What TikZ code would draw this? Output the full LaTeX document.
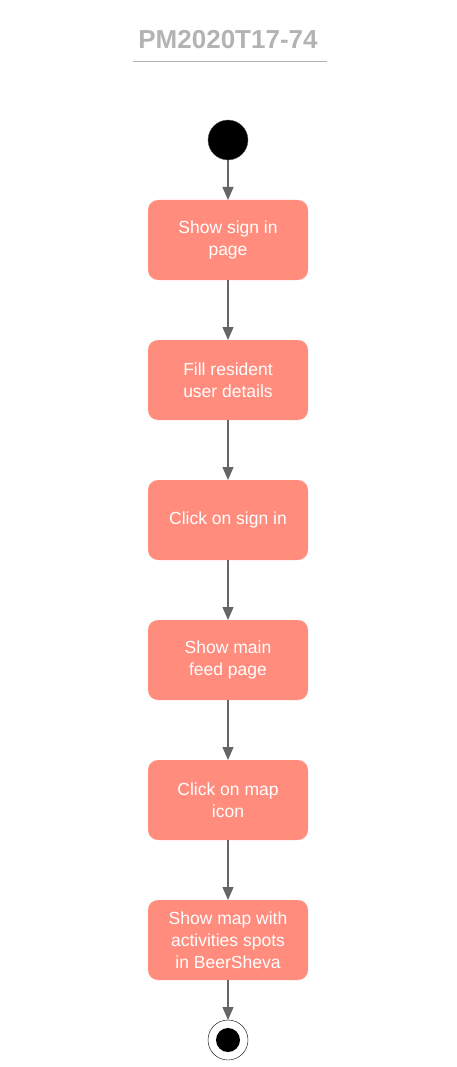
\documentclass[tikz,border=0pt]{standalone}
\usepackage{fontspec}
\setmainfont{Liberation Sans}
\usetikzlibrary{positioning,arrows.meta}
\definecolor{boxred}{HTML}{FF8C7D}
\definecolor{linegray}{HTML}{666666}
\definecolor{titlegray}{HTML}{B3B3B3}

\begin{document}
\begin{tikzpicture}
[
x=1pt, y=1pt,
node distance=60pt,
every node/.style={outer sep=0pt},
title/.style={text=titlegray, font=\fontsize{26}{30}\selectfont\bfseries},
start/.style={circle, fill=black, draw=linegray, thin, minimum size=40pt, inner sep=0},
action/.style={rectangle, rounded corners=10pt, fill=boxred, text=white, minimum width=160pt, minimum height=80pt, align=center, font=\fontsize{17.5}{22}\selectfont},
final/.style={circle, draw=black, fill=white, thin, minimum size=40pt, inner sep=0, path picture={\fill[black] (path picture bounding box.center) circle (12pt);}},
flow/.style={-{Triangle[length=13pt,width=11pt]}, color=linegray, line width=1.2pt}
]
\useasboundingbox (0,0) rectangle (456,-1067);

%Nodes
\node[title]    (head)      at (228,-40)            {PM2020T17-74};
\node[start]    (init)      at (228,-140)           {};
\node[action]   (signpage)  [below=40pt of init]    {Show sign in\\page};
\node[action]   (fill)      [below=of signpage]     {Fill resident\\user details};
\node[action]   (click)     [below=of fill]         {Click on sign in};
\node[action]   (feed)      [below=of click]        {Show main\\feed page};
\node[action]   (mapicon)   [below=of feed]         {Click on map\\icon};
\node[action]   (map)       [below=of mapicon]      {Show map with\\activities spots\\in BeerSheva};
\node[final]    (end)       [below=40pt of map]     {};

%Lines
\draw[titlegray, line width=1pt] (133,-62) -- (327,-62);
\path[flow]
(init)      edge    (signpage)
(signpage)  edge    (fill)
(fill)      edge    (click)
(click)     edge    (feed)
(feed)      edge    (mapicon)
(mapicon)   edge    (map)
(map)       edge    (end);

\end{tikzpicture}
\end{document}
